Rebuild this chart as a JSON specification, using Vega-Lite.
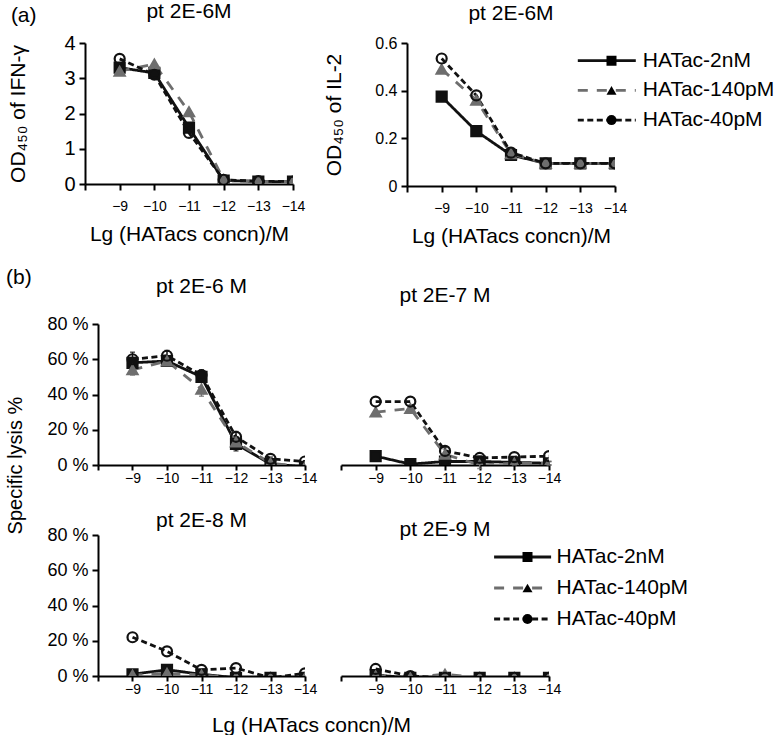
{
  "$schema": "https://vega.github.io/schema/vega-lite/v6.json",
  "background": "white",
  "padding": {"left": 5, "top": 1, "right": 0, "bottom": 0},
  "data": {"values": [
    {"panel":"aIFN","series":"HATac-2nM","x":-9,"y":3.3},
    {"panel":"aIFN","series":"HATac-2nM","x":-10,"y":3.15},
    {"panel":"aIFN","series":"HATac-2nM","x":-11,"y":1.6},
    {"panel":"aIFN","series":"HATac-2nM","x":-12,"y":0.1},
    {"panel":"aIFN","series":"HATac-2nM","x":-13,"y":0.07},
    {"panel":"aIFN","series":"HATac-2nM","x":-14,"y":0.07},
    {"panel":"aIFN","series":"HATac-140pM","x":-9,"y":3.2},
    {"panel":"aIFN","series":"HATac-140pM","x":-10,"y":3.4},
    {"panel":"aIFN","series":"HATac-140pM","x":-11,"y":2.05},
    {"panel":"aIFN","series":"HATac-140pM","x":-12,"y":0.12},
    {"panel":"aIFN","series":"HATac-140pM","x":-13,"y":0.07},
    {"panel":"aIFN","series":"HATac-140pM","x":-14,"y":0.07},
    {"panel":"aIFN","series":"HATac-40pM","x":-9,"y":3.55},
    {"panel":"aIFN","series":"HATac-40pM","x":-10,"y":3.1},
    {"panel":"aIFN","series":"HATac-40pM","x":-11,"y":1.45},
    {"panel":"aIFN","series":"HATac-40pM","x":-12,"y":0.12},
    {"panel":"aIFN","series":"HATac-40pM","x":-13,"y":0.08},
    {"panel":"aIFN","series":"HATac-40pM","x":-14,"y":0.07},
    {"panel":"aIL2","series":"HATac-2nM","x":-9,"y":0.375},
    {"panel":"aIL2","series":"HATac-2nM","x":-10,"y":0.23},
    {"panel":"aIL2","series":"HATac-2nM","x":-11,"y":0.13},
    {"panel":"aIL2","series":"HATac-2nM","x":-12,"y":0.095},
    {"panel":"aIL2","series":"HATac-2nM","x":-13,"y":0.095},
    {"panel":"aIL2","series":"HATac-2nM","x":-14,"y":0.095},
    {"panel":"aIL2","series":"HATac-140pM","x":-9,"y":0.49},
    {"panel":"aIL2","series":"HATac-140pM","x":-10,"y":0.36},
    {"panel":"aIL2","series":"HATac-140pM","x":-11,"y":0.135},
    {"panel":"aIL2","series":"HATac-140pM","x":-12,"y":0.095},
    {"panel":"aIL2","series":"HATac-140pM","x":-13,"y":0.095},
    {"panel":"aIL2","series":"HATac-140pM","x":-14,"y":0.095},
    {"panel":"aIL2","series":"HATac-40pM","x":-9,"y":0.535},
    {"panel":"aIL2","series":"HATac-40pM","x":-10,"y":0.38},
    {"panel":"aIL2","series":"HATac-40pM","x":-11,"y":0.14},
    {"panel":"aIL2","series":"HATac-40pM","x":-12,"y":0.095},
    {"panel":"aIL2","series":"HATac-40pM","x":-13,"y":0.095},
    {"panel":"aIL2","series":"HATac-40pM","x":-14,"y":0.095},
    {"panel":"b6","series":"HATac-2nM","x":-9,"y":58,"err":3},
    {"panel":"b6","series":"HATac-2nM","x":-10,"y":59,"err":2},
    {"panel":"b6","series":"HATac-2nM","x":-11,"y":50,"err":3},
    {"panel":"b6","series":"HATac-2nM","x":-12,"y":12,"err":4},
    {"panel":"b6","series":"HATac-2nM","x":-13,"y":0.5,"err":0},
    {"panel":"b6","series":"HATac-2nM","x":-14,"y":-1,"err":0},
    {"panel":"b6","series":"HATac-140pM","x":-9,"y":54,"err":3},
    {"panel":"b6","series":"HATac-140pM","x":-10,"y":59,"err":2},
    {"panel":"b6","series":"HATac-140pM","x":-11,"y":43,"err":4},
    {"panel":"b6","series":"HATac-140pM","x":-12,"y":13,"err":3},
    {"panel":"b6","series":"HATac-140pM","x":-13,"y":1,"err":0},
    {"panel":"b6","series":"HATac-140pM","x":-14,"y":-1,"err":0},
    {"panel":"b6","series":"HATac-40pM","x":-9,"y":60,"err":4},
    {"panel":"b6","series":"HATac-40pM","x":-10,"y":62,"err":3},
    {"panel":"b6","series":"HATac-40pM","x":-11,"y":51,"err":3},
    {"panel":"b6","series":"HATac-40pM","x":-12,"y":16,"err":3},
    {"panel":"b6","series":"HATac-40pM","x":-13,"y":3.5,"err":1},
    {"panel":"b6","series":"HATac-40pM","x":-14,"y":2,"err":0},
    {"panel":"b7","series":"HATac-2nM","x":-9,"y":5,"err":0},
    {"panel":"b7","series":"HATac-2nM","x":-10,"y":0.5,"err":0},
    {"panel":"b7","series":"HATac-2nM","x":-11,"y":2,"err":1},
    {"panel":"b7","series":"HATac-2nM","x":-12,"y":2,"err":1},
    {"panel":"b7","series":"HATac-2nM","x":-13,"y":1.5,"err":1},
    {"panel":"b7","series":"HATac-2nM","x":-14,"y":1,"err":1},
    {"panel":"b7","series":"HATac-140pM","x":-9,"y":30,"err":0},
    {"panel":"b7","series":"HATac-140pM","x":-10,"y":32,"err":2},
    {"panel":"b7","series":"HATac-140pM","x":-11,"y":6,"err":3},
    {"panel":"b7","series":"HATac-140pM","x":-12,"y":0,"err":2},
    {"panel":"b7","series":"HATac-140pM","x":-13,"y":1,"err":1},
    {"panel":"b7","series":"HATac-140pM","x":-14,"y":1,"err":1},
    {"panel":"b7","series":"HATac-40pM","x":-9,"y":36,"err":0},
    {"panel":"b7","series":"HATac-40pM","x":-10,"y":36,"err":0},
    {"panel":"b7","series":"HATac-40pM","x":-11,"y":8,"err":2},
    {"panel":"b7","series":"HATac-40pM","x":-12,"y":4,"err":1},
    {"panel":"b7","series":"HATac-40pM","x":-13,"y":4.5,"err":0},
    {"panel":"b7","series":"HATac-40pM","x":-14,"y":5,"err":0},
    {"panel":"b8","series":"HATac-2nM","x":-9,"y":1},
    {"panel":"b8","series":"HATac-2nM","x":-10,"y":3.5},
    {"panel":"b8","series":"HATac-2nM","x":-11,"y":1},
    {"panel":"b8","series":"HATac-2nM","x":-12,"y":-1},
    {"panel":"b8","series":"HATac-2nM","x":-13,"y":-1},
    {"panel":"b8","series":"HATac-2nM","x":-14,"y":-1},
    {"panel":"b8","series":"HATac-140pM","x":-9,"y":0.5},
    {"panel":"b8","series":"HATac-140pM","x":-10,"y":1.5},
    {"panel":"b8","series":"HATac-140pM","x":-11,"y":0.5},
    {"panel":"b8","series":"HATac-140pM","x":-12,"y":-1},
    {"panel":"b8","series":"HATac-140pM","x":-13,"y":-1},
    {"panel":"b8","series":"HATac-140pM","x":-14,"y":-1},
    {"panel":"b8","series":"HATac-40pM","x":-9,"y":22},
    {"panel":"b8","series":"HATac-40pM","x":-10,"y":14},
    {"panel":"b8","series":"HATac-40pM","x":-11,"y":3.5},
    {"panel":"b8","series":"HATac-40pM","x":-12,"y":4.5},
    {"panel":"b8","series":"HATac-40pM","x":-13,"y":-1},
    {"panel":"b8","series":"HATac-40pM","x":-14,"y":1.5},
    {"panel":"b9","series":"HATac-2nM","x":-9,"y":0.5},
    {"panel":"b9","series":"HATac-2nM","x":-10,"y":-1},
    {"panel":"b9","series":"HATac-2nM","x":-11,"y":-1},
    {"panel":"b9","series":"HATac-2nM","x":-12,"y":-1},
    {"panel":"b9","series":"HATac-2nM","x":-13,"y":-1},
    {"panel":"b9","series":"HATac-2nM","x":-14,"y":-1},
    {"panel":"b9","series":"HATac-140pM","x":-9,"y":0},
    {"panel":"b9","series":"HATac-140pM","x":-10,"y":-1},
    {"panel":"b9","series":"HATac-140pM","x":-11,"y":1},
    {"panel":"b9","series":"HATac-140pM","x":-12,"y":-1},
    {"panel":"b9","series":"HATac-140pM","x":-13,"y":-1},
    {"panel":"b9","series":"HATac-140pM","x":-14,"y":-1},
    {"panel":"b9","series":"HATac-40pM","x":-9,"y":4},
    {"panel":"b9","series":"HATac-40pM","x":-10,"y":0},
    {"panel":"b9","series":"HATac-40pM","x":-11,"y":-1},
    {"panel":"b9","series":"HATac-40pM","x":-12,"y":-1},
    {"panel":"b9","series":"HATac-40pM","x":-13,"y":-1},
    {"panel":"b9","series":"HATac-40pM","x":-14,"y":-1}
  ]},
  "spacing": 21,
  "resolve": {"legend": {"stroke": "independent", "strokeDash": "independent", "shape": "independent"}},
  "vconcat": [
    {
      "title": {"text": "(a)", "anchor": "start", "frame": "bounds", "offset": -25, "dx": 3.5},
      "bounds": "flush",
      "spacing": 114,
      "resolve": {"legend": {"stroke": "independent", "strokeDash": "independent", "shape": "independent"}},
      "hconcat": [
        {
          "width": 208, "height": 141,
          "title": {"text": "pt 2E-6M", "offset": 11},
          "transform": [{"filter": "datum.panel === 'aIFN'"}],
          "encoding": {
            "x": {"field": "x", "type": "quantitative", "scale": {"domain": [-8, -14], "nice": false, "zero": false},
                  "axis": {"values": [-8, -9, -10, -11, -12, -13, -14], "labelExpr": "datum.value === -8 ? '' : datum.label", "labelPadding": 9, "title": "Lg (HATacs concn)/M", "titlePadding": 10}},
            "y": {"field": "y", "type": "quantitative", "scale": {"domain": [0, 4], "nice": false},
                  "axis": {"values": [0, 1, 2, 3, 4], "labelFontSize": 20, "title": "OD₄₅₀ of IFN-γ", "titlePadding": 35.5}}
          },
          "layer": [
            {"mark": {"type": "line", "strokeWidth": 2.8, "clip": true},
             "encoding": {
               "stroke": {"field": "series", "type": "nominal", "scale": {"domain": ["HATac-2nM", "HATac-140pM", "HATac-40pM"], "range": ["#111111", "#6e6e6e", "#111111"]}, "legend": null},
               "strokeDash": {"field": "series", "type": "nominal", "scale": {"domain": ["HATac-2nM", "HATac-140pM", "HATac-40pM"], "range": [[1, 0], [10, 9], [6, 3.5]]}, "legend": null}}},
            {"mark": {"type": "point", "size": 100, "strokeWidth": 2.2, "opacity": 1, "clip": true},
             "encoding": {
               "shape": {"field": "series", "type": "nominal", "sort": ["HATac-2nM", "HATac-140pM", "HATac-40pM"], "scale": {"range": ["square", "triangle-up", "circle"]}, "legend": null},
               "fill": {"field": "series", "type": "nominal", "scale": {"domain": ["HATac-2nM", "HATac-140pM", "HATac-40pM"], "range": ["#111111", "#6e6e6e", "transparent"]}, "legend": null},
               "stroke": {"field": "series", "type": "nominal", "scale": {"domain": ["HATac-2nM", "HATac-140pM", "HATac-40pM"], "range": ["#111111", "#6e6e6e", "#111111"]}, "legend": null}}}
          ]
        },
        {
          "width": 208, "height": 143,
          "title": {"text": "pt 2E-6M", "offset": 11},
          "transform": [{"filter": "datum.panel === 'aIL2'"}],
          "encoding": {
            "x": {"field": "x", "type": "quantitative", "scale": {"domain": [-8, -14], "nice": false, "zero": false},
                  "axis": {"values": [-8, -9, -10, -11, -12, -13, -14], "labelExpr": "datum.value === -8 ? '' : datum.label", "labelPadding": 9, "title": "Lg (HATacs concn)/M", "titlePadding": 10}},
            "y": {"field": "y", "type": "quantitative", "scale": {"domain": [0, 0.6], "nice": false},
                  "axis": {"values": [0, 0.2, 0.4, 0.6], "format": "~g", "labelFontSize": 16, "title": "OD₄₅₀ of IL-2", "titlePadding": 30}}
          },
          "layer": [
            {"mark": {"type": "line", "strokeWidth": 2.8, "clip": true},
             "encoding": {
               "stroke": {"field": "series", "type": "nominal", "scale": {"domain": ["HATac-2nM", "HATac-140pM", "HATac-40pM"], "range": ["#111111", "#6e6e6e", "#111111"]},
                          "legend": {"orient": "none", "legendX": 169.3, "legendY": 4.7, "rowPadding": 3.7, "title": null, "symbolType": "stroke", "symbolSize": 3364, "symbolStrokeWidth": 2.8, "labelOffset": 5.5}},
               "strokeDash": {"field": "series", "type": "nominal", "scale": {"domain": ["HATac-2nM", "HATac-140pM", "HATac-40pM"], "range": [[1, 0], [10, 9], [6, 3.5]]},
                          "legend": {"orient": "none", "legendX": 169.3, "legendY": 4.7, "rowPadding": 3.7, "title": null, "symbolType": "stroke", "symbolSize": 3364, "symbolStrokeWidth": 2.8, "labelOffset": 5.5}}}},
            {"mark": {"type": "point", "size": 100, "strokeWidth": 2.2, "opacity": 1, "clip": true},
             "encoding": {
               "shape": {"field": "series", "type": "nominal", "sort": ["HATac-2nM", "HATac-140pM", "HATac-40pM"], "scale": {"range": ["square", "triangle-up", "circle"]},
                         "legend": {"orient": "none", "legendX": 194, "legendY": 4.7, "rowPadding": 3.7, "title": null, "symbolSize": 100, "labelExpr": "''",
                                    "encode": {"symbols": {"update": {"fill": {"scale": "fill", "field": "value"}, "stroke": {"scale": "stroke", "field": "value"}, "strokeWidth": {"value": 2.2}, "opacity": {"value": 1}}}}}},
               "fill": {"field": "series", "type": "nominal", "scale": {"domain": ["HATac-2nM", "HATac-140pM", "HATac-40pM"], "range": ["#111111", "#6e6e6e", "transparent"]}, "legend": null},
               "stroke": {"field": "series", "type": "nominal", "scale": {"domain": ["HATac-2nM", "HATac-140pM", "HATac-40pM"], "range": ["#111111", "#6e6e6e", "#111111"]}, "legend": null}}}
          ]
        }
      ]
    },
    {
      "title": {"text": "(b)", "anchor": "start", "frame": "bounds", "offset": -12},
      "bounds": "flush",
      "spacing": 12,
      "resolve": {"legend": {"stroke": "independent", "strokeDash": "independent", "shape": "independent"}},
      "hconcat": [
        {"width": 1, "height": 1, "transform": [{"filter": "false"}], "mark": "point"},
        {
          "bounds": "flush",
          "columns": 2,
          "spacing": {"row": 70, "column": 36},
          "resolve": {"legend": {"stroke": "independent", "strokeDash": "independent", "shape": "independent"}},
          "concat": [
            {
              "width": 207, "height": 141,
              "title": {"text": "pt 2E-6 M", "offset": 17.7},
              "transform": [{"filter": "datum.panel === 'b6'"}],
              "encoding": {
                "x": {"field": "x", "type": "quantitative", "scale": {"domain": [-8, -14], "nice": false, "zero": false},
                      "axis": {"values": [-8, -9, -10, -11, -12, -13, -14], "labelExpr": "datum.value === -8 ? '' : datum.label", "tickSize": 5, "labelPadding": 1.5, "title": null}},
                "y": {"field": "y", "type": "quantitative", "scale": {"domain": [0, 80], "nice": false},
                      "axis": {"values": [0, 20, 40, 60, 80], "labelExpr": "datum.value + ' %'", "labelFontSize": 18, "title": "Specific lysis %", "titleFontSize": 20, "titlePadding": 21, "titleY": 141}}
              },
              "layer": [
                {"transform": [{"filter": "datum.err > 0"}],
                 "mark": {"type": "errorbar", "ticks": true, "thickness": 1.5},
                 "encoding": {"yError": {"field": "err"},
                   "color": {"field": "series", "type": "nominal", "scale": {"domain": ["HATac-2nM", "HATac-140pM", "HATac-40pM"], "range": ["#111111", "#6e6e6e", "#111111"]}, "legend": null}}},
                {"mark": {"type": "line", "strokeWidth": 2.8, "clip": true},
                 "encoding": {
                   "stroke": {"field": "series", "type": "nominal", "scale": {"domain": ["HATac-2nM", "HATac-140pM", "HATac-40pM"], "range": ["#111111", "#6e6e6e", "#111111"]}, "legend": null},
                   "strokeDash": {"field": "series", "type": "nominal", "scale": {"domain": ["HATac-2nM", "HATac-140pM", "HATac-40pM"], "range": [[1, 0], [10, 9], [6, 3.5]]}, "legend": null}}},
                {"mark": {"type": "point", "size": 100, "strokeWidth": 2.2, "opacity": 1, "clip": true},
                 "encoding": {
                   "shape": {"field": "series", "type": "nominal", "sort": ["HATac-2nM", "HATac-140pM", "HATac-40pM"], "scale": {"range": ["square", "triangle-up", "circle"]}, "legend": null},
                   "fill": {"field": "series", "type": "nominal", "scale": {"domain": ["HATac-2nM", "HATac-140pM", "HATac-40pM"], "range": ["#111111", "#6e6e6e", "transparent"]}, "legend": null},
                   "stroke": {"field": "series", "type": "nominal", "scale": {"domain": ["HATac-2nM", "HATac-140pM", "HATac-40pM"], "range": ["#111111", "#6e6e6e", "#111111"]}, "legend": null}}}
              ]
            },
            {
              "width": 208, "height": 141,
              "title": {"text": "pt 2E-7 M", "offset": 17.7},
              "transform": [{"filter": "datum.panel === 'b7'"}],
              "encoding": {
                "x": {"field": "x", "type": "quantitative", "scale": {"domain": [-8, -14], "nice": false, "zero": false},
                      "axis": {"values": [-8, -9, -10, -11, -12, -13, -14], "labelExpr": "datum.value === -8 ? '' : datum.label", "tickSize": 5, "labelPadding": 1.5, "title": null}},
                "y": {"field": "y", "type": "quantitative", "scale": {"domain": [0, 80], "nice": false}, "axis": null}
              },
              "layer": [
                {"transform": [{"filter": "datum.err > 0"}],
                 "mark": {"type": "errorbar", "ticks": true, "thickness": 1.5},
                 "encoding": {"yError": {"field": "err"},
                   "color": {"field": "series", "type": "nominal", "scale": {"domain": ["HATac-2nM", "HATac-140pM", "HATac-40pM"], "range": ["#111111", "#6e6e6e", "#111111"]}, "legend": null}}},
                {"mark": {"type": "line", "strokeWidth": 2.8, "clip": true},
                 "encoding": {
                   "stroke": {"field": "series", "type": "nominal", "scale": {"domain": ["HATac-2nM", "HATac-140pM", "HATac-40pM"], "range": ["#111111", "#6e6e6e", "#111111"]}, "legend": null},
                   "strokeDash": {"field": "series", "type": "nominal", "scale": {"domain": ["HATac-2nM", "HATac-140pM", "HATac-40pM"], "range": [[1, 0], [10, 9], [6, 3.5]]}, "legend": null}}},
                {"mark": {"type": "point", "size": 100, "strokeWidth": 2.2, "opacity": 1, "clip": true},
                 "encoding": {
                   "shape": {"field": "series", "type": "nominal", "sort": ["HATac-2nM", "HATac-140pM", "HATac-40pM"], "scale": {"range": ["square", "triangle-up", "circle"]}, "legend": null},
                   "fill": {"field": "series", "type": "nominal", "scale": {"domain": ["HATac-2nM", "HATac-140pM", "HATac-40pM"], "range": ["#111111", "#6e6e6e", "transparent"]}, "legend": null},
                   "stroke": {"field": "series", "type": "nominal", "scale": {"domain": ["HATac-2nM", "HATac-140pM", "HATac-40pM"], "range": ["#111111", "#6e6e6e", "#111111"]}, "legend": null}}}
              ]
            },
            {
              "width": 207, "height": 141,
              "title": {"text": "pt 2E-8 M", "offset": -5},
              "transform": [{"filter": "datum.panel === 'b8'"}],
              "encoding": {
                "x": {"field": "x", "type": "quantitative", "scale": {"domain": [-8, -14], "nice": false, "zero": false},
                      "axis": {"values": [-8, -9, -10, -11, -12, -13, -14], "labelExpr": "datum.value === -8 ? '' : datum.label", "tickSize": 5, "labelPadding": 1.5, "title": "Lg (HATacs concn)/M", "titleX": 213, "titlePadding": 17.5}},
                "y": {"field": "y", "type": "quantitative", "scale": {"domain": [0, 80], "nice": false},
                      "axis": {"values": [0, 20, 40, 60, 80], "labelExpr": "datum.value + ' %'", "labelFontSize": 18, "title": null}}
              },
              "layer": [
                {"mark": {"type": "line", "strokeWidth": 2.8, "clip": true},
                 "encoding": {
                   "stroke": {"field": "series", "type": "nominal", "scale": {"domain": ["HATac-2nM", "HATac-140pM", "HATac-40pM"], "range": ["#111111", "#6e6e6e", "#111111"]}, "legend": null},
                   "strokeDash": {"field": "series", "type": "nominal", "scale": {"domain": ["HATac-2nM", "HATac-140pM", "HATac-40pM"], "range": [[1, 0], [10, 9], [6, 3.5]]}, "legend": null}}},
                {"mark": {"type": "point", "size": 100, "strokeWidth": 2.2, "opacity": 1, "clip": true},
                 "encoding": {
                   "shape": {"field": "series", "type": "nominal", "sort": ["HATac-2nM", "HATac-140pM", "HATac-40pM"], "scale": {"range": ["square", "triangle-up", "circle"]}, "legend": null},
                   "fill": {"field": "series", "type": "nominal", "scale": {"domain": ["HATac-2nM", "HATac-140pM", "HATac-40pM"], "range": ["#111111", "#6e6e6e", "transparent"]}, "legend": null},
                   "stroke": {"field": "series", "type": "nominal", "scale": {"domain": ["HATac-2nM", "HATac-140pM", "HATac-40pM"], "range": ["#111111", "#6e6e6e", "#111111"]}, "legend": null}}}
              ]
            },
            {
              "width": 208, "height": 141,
              "title": {"text": "pt 2E-9 M", "offset": -5},
              "transform": [{"filter": "datum.panel === 'b9'"}],
              "encoding": {
                "x": {"field": "x", "type": "quantitative", "scale": {"domain": [-8, -14], "nice": false, "zero": false},
                      "axis": {"values": [-8, -9, -10, -11, -12, -13, -14], "labelExpr": "datum.value === -8 ? '' : datum.label", "tickSize": 5, "labelPadding": 1.5, "title": null}},
                "y": {"field": "y", "type": "quantitative", "scale": {"domain": [0, 80], "nice": false}, "axis": null}
              },
              "layer": [
                {"mark": {"type": "line", "strokeWidth": 2.8, "clip": true},
                 "encoding": {
                   "stroke": {"field": "series", "type": "nominal", "scale": {"domain": ["HATac-2nM", "HATac-140pM", "HATac-40pM"], "range": ["#111111", "#6e6e6e", "#111111"]},
                              "legend": {"orient": "none", "legendX": 151.6, "legendY": 9, "rowPadding": 5, "title": null, "symbolType": "stroke", "symbolSize": 3249, "symbolStrokeWidth": 2.8, "labelOffset": 4}},
                   "strokeDash": {"field": "series", "type": "nominal", "scale": {"domain": ["HATac-2nM", "HATac-140pM", "HATac-40pM"], "range": [[1, 0], [10, 9], [6, 3.5]]},
                              "legend": {"orient": "none", "legendX": 151.6, "legendY": 9, "rowPadding": 5, "title": null, "symbolType": "stroke", "symbolSize": 3249, "symbolStrokeWidth": 2.8, "labelOffset": 4}}}},
                {"mark": {"type": "point", "size": 100, "strokeWidth": 2.2, "opacity": 1, "clip": true},
                 "encoding": {
                   "shape": {"field": "series", "type": "nominal", "sort": ["HATac-2nM", "HATac-140pM", "HATac-40pM"], "scale": {"range": ["square", "triangle-up", "circle"]},
                             "legend": {"orient": "none", "legendX": 176, "legendY": 9, "rowPadding": 5, "title": null, "symbolSize": 100, "labelExpr": "''",
                                        "encode": {"symbols": {"update": {"fill": {"scale": "fill", "field": "value"}, "stroke": {"scale": "stroke", "field": "value"}, "strokeWidth": {"value": 2.2}, "opacity": {"value": 1}}}}}},
                   "fill": {"field": "series", "type": "nominal", "scale": {"domain": ["HATac-2nM", "HATac-140pM", "HATac-40pM"], "range": ["#111111", "#6e6e6e", "transparent"]}, "legend": null},
                   "stroke": {"field": "series", "type": "nominal", "scale": {"domain": ["HATac-2nM", "HATac-140pM", "HATac-40pM"], "range": ["#111111", "#6e6e6e", "#111111"]}, "legend": null}}}
              ]
            }
          ]
        }
      ]
    }
  ],
  "config": {
    "font": "Liberation Sans",
    "view": {"stroke": null},
    "title": {"fontSize": 21, "fontWeight": "normal", "color": "#000000", "font": "Liberation Sans"},
    "axis": {"domainColor": "#000000", "domainWidth": 2, "tickColor": "#000000", "tickWidth": 2, "tickSize": 6,
             "labelColor": "#000000", "labelFont": "Liberation Sans", "titleFont": "Liberation Sans", "titleFontSize": 21,
             "titleFontWeight": "normal", "titleColor": "#000000", "grid": false, "labelPadding": 4, "labelOverlap": false},
    "axisX": {"labelFontSize": 14, "labelAngle": 0, "labelFlush": false, "labelOverlap": false},
    "legend": {"labelFont": "Liberation Sans", "labelFontSize": 21, "labelColor": "#000000", "padding": 0, "rowPadding": 4.5, "clipHeight": 26, "labelLimit": 300}
  }
}
